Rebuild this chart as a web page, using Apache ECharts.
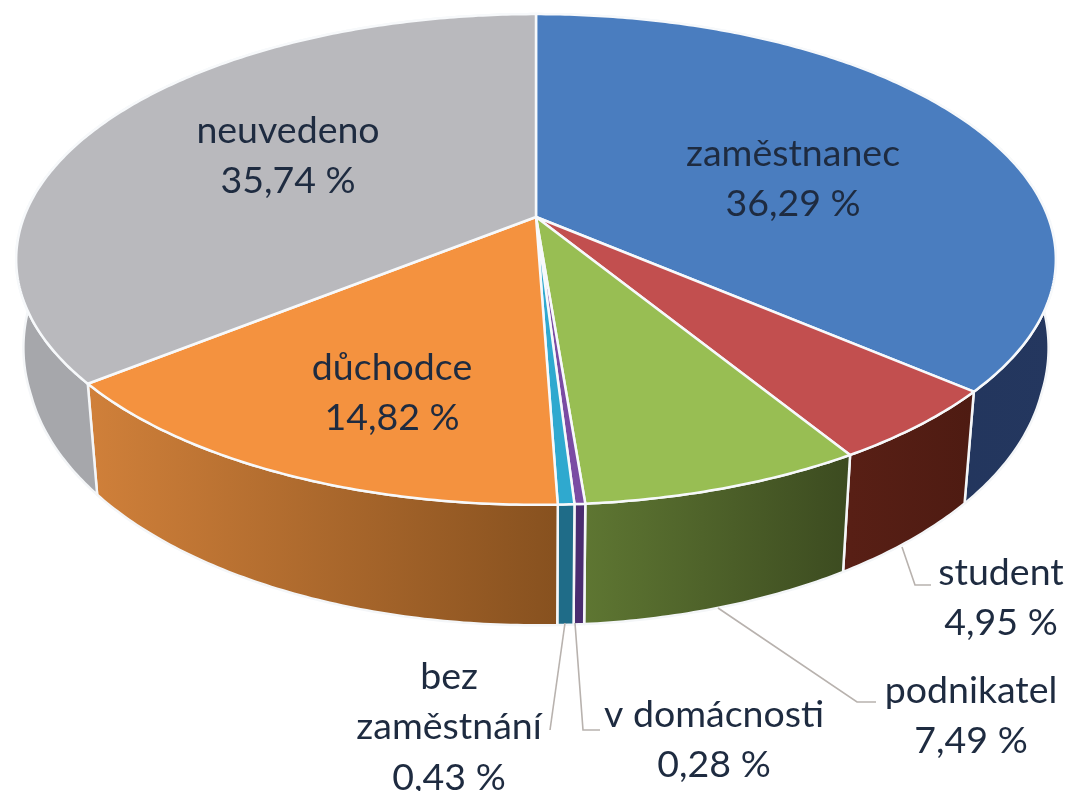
<!DOCTYPE html>
<html><head><meta charset="utf-8">
<style>html,body{margin:0;padding:0;background:#fff}#c{width:1072px;height:791px}</style>
<script src="https://cdn.jsdelivr.net/npm/echarts@6/dist/echarts.min.js"></script>
</head><body><div id="c"></div>
<script>
const categories = ['zaměstnanec','student','podnikatel','v domácnosti','bez\nzaměstnání','důchodce','neuvedeno'];
const shares = [36.29,4.95,7.49,0.28,0.43,14.82,35.74];
const topColors = ['#4A7DBF','#C24F4F','#98BE53','#7A4BA3','#2FA9CF','#F4923F','#B9B9BD'];
const sideLeft  = ['#1E3157','#581F15','#5E7632','#4A2C70','#1F6C88','#D0803A','#A6A7AB'];
const sideRight = ['#24375F','#4E1B12','#3C4B20','#4A2C70','#1F6C88','#87511F','#A6A7AB'];
// label anchor (centre of the text block) and leader line per category
const labelPos = [[793,179],[1001,598],[971,716],[714,740],[449,727],[392,393],[288,156]];
const leaders = [null,[[902,547],[915,585],[931,585]],[[718,608],[857,702],[876,702]],[[575,623],[583,730],[600,730]],[[565,623],[550,730]],null,null];
const fmt = v => v.toFixed(2).replace('.', ',') + ' %';

// projection of the pie disc (top face and bottom rim)
const C = {x:536, yTop:217, rTop:512, hTop:238, kTop:0.173, yBot:310, rBot:503, hBot:268, kBot:0.15, kBotX:0.168, flare:16};
const total = shares.reduce((a,b)=>a+b,0);
const startOf = i => shares.slice(0,i).reduce((a,b)=>a+b,0)/total*2*Math.PI;
const topPt = a => { const u=Math.sin(a), v=Math.cos(a), d=1+C.kTop*v;
  return [C.x+C.rTop*u/d, C.yTop-C.hTop*v/d]; };
const botPt = a => { const u=Math.sin(a), v=Math.cos(a);
  return [C.x+C.rBot*u/(1+C.kBotX*v)+Math.sign(u)*C.flare*Math.max(0,v+0.3), C.yBot-C.hBot*v/(1+C.kBot*v)]; };
const arc = (i,fn) => { const a0=startOf(i), a1=startOf(i+1), n=Math.max(2,Math.ceil((a1-a0)*90));
  const p=[]; for(let s=0;s<=n;s++) p.push(fn(a0+(a1-a0)*s/n)); return p; };
const seriesData = shares.map(v=>[v]);

const chart = echarts.init(document.getElementById('c'), null, {renderer:'canvas'});
chart.setOption({
  animation:false,
  backgroundColor:'#fff',
  series:[
    { type:'custom', coordinateSystem:'none', silent:true, z:1, data:seriesData,
      renderItem:(p)=>{ const i=p.dataIndex;
        const t=arc(i,topPt), b=arc(i,botPt).reverse();
        const xs=t.map(q=>q[0]);
        const fill=new echarts.graphic.LinearGradient(Math.min(...xs),0,Math.max(...xs),0,
          [{offset:0,color:sideLeft[i]},{offset:1,color:sideRight[i]}],true);
        return {type:'polygon',shape:{points:t.concat(b)},
          style:{fill,stroke:'#F4F6F8',lineWidth:2.5,lineJoin:'round'}};
      }},
    { type:'custom', coordinateSystem:'none', silent:true, z:2, data:seriesData,
      renderItem:(p)=>{ const i=p.dataIndex;
        return {type:'polygon',shape:{points:[[C.x,C.yTop]].concat(arc(i,topPt))},
          style:{fill:topColors[i],stroke:'#F7F9FB',lineWidth:2.5,lineJoin:'round'}};
      }},
    { type:'custom', coordinateSystem:'none', silent:true, z:3, data:seriesData,
      renderItem:(p,api)=>{ const i=p.dataIndex, kids=[];
        if(leaders[i]) kids.push({type:'polyline',shape:{points:leaders[i]},
          style:{fill:'none',stroke:'#B8B2AE',lineWidth:1.6}});
        kids.push({type:'text',x:labelPos[i][0],y:labelPos[i][1],
          style:{text:categories[i]+'\n'+fmt(api.value(0)),fill:'#1E2B40',
            font:'37.5px Lato, "Noto Sans", sans-serif',align:'center',verticalAlign:'middle',lineHeight:50.5}});
        return {type:'group',children:kids};
      }}
  ]
});
</script></body></html>
